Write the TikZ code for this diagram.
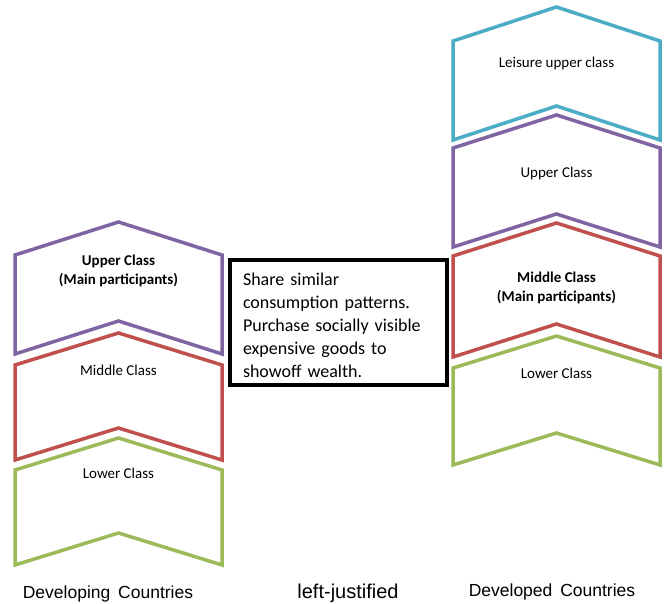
\documentclass[tikz,border=0pt]{standalone}
\usepackage{fontspec}
\setmainfont{Carlito}
\newfontfamily\arialf{Liberation Sans}
\definecolor{cpurple}{HTML}{8064A2}
\definecolor{cred}{HTML}{C0504D}
\definecolor{cgreen}{HTML}{9BBB59}
\definecolor{ccyan}{HTML}{4BACC6}
% color, xl, xr, y apex, y bottom corners, drop
\newcommand\chevshape[6]{%
  \draw[chevline, draw=#1] ({#2},{#4+#6}) -- ({(#2+#3)/2},{#4}) -- ({#3},{#4+#6})
    -- ({#3},{#5}) -- ({(#2+#3)/2},{#5-#6}) -- ({#2},{#5}) -- cycle;}
\begin{document}
\begin{tikzpicture}[x=1pt,y=-1pt,
  chevline/.style={line width=3.5pt, line join=miter},
  lbl/.style={font=\fontsize{15}{17}\selectfont, anchor=base, inner sep=0pt},
  blbl/.style={font=\fontsize{15}{17}\selectfont\bfseries, anchor=base, inner sep=0pt},
  infobox/.style={draw=black, line width=3.5pt, text width=191pt, inner xsep=13pt,
    minimum width=217pt, minimum height=125pt, align=left,
    font=\fontsize{18}{23}\selectfont},
  caption/.style={font=\arialf\fontsize{17.5}{20}\selectfont, anchor=base, inner sep=0pt}
]
\useasboundingbox (0,0) rectangle (666,604);
% left column
\chevshape{cpurple}{15}{222}{222}{354}{33}
\chevshape{cred}{15}{222}{333}{460}{32}
\chevshape{cgreen}{15}{222}{438}{565}{32}
% right column
\chevshape{ccyan}{453}{660}{7}{140}{34}
\chevshape{cpurple}{453}{660}{115}{247}{33}
\chevshape{cred}{453}{660}{223}{357}{33}
\chevshape{cgreen}{453}{660}{336}{465}{32}
% labels left
\node[blbl] (lu1) at (118.5,265) {Upper Class};
\node[blbl] (lu2) at (118.5,284) {(Main participants)};
\node[lbl] (lm) at (118.5,375) {Middle Class};
\node[lbl] (ll) at (118.5,478) {Lower Class};
% labels right
\node[lbl] (rle) at (556.5,68) {Leisure upper class};
\node[lbl] (ru) at (556.5,178) {Upper Class};
\node[blbl] (rm1) at (556.5,282) {Middle Class};
\node[blbl] (rm2) at (556.5,301) {(Main participants)};
\node[lbl] (rl) at (556.5,378) {Lower Class};
% central box
\node[infobox] (box) at (338.5,322.5) {\rule{0pt}{19pt}Share similar\\ consumption patterns.\\ Purchase socially visible\\ expensive goods to\\ showoff wealth.};
% captions
\node[caption] (cap1) at (108,598) {Developing\hspace{0.45em}Countries};
\node[caption, font=\arialf\fontsize{20}{22}\selectfont] (cap2) at (348,598) {left-justified};
\node[caption] (cap3) at (552,596) {Developed\hspace{0.45em}Countries};
\end{tikzpicture}
\end{document}
